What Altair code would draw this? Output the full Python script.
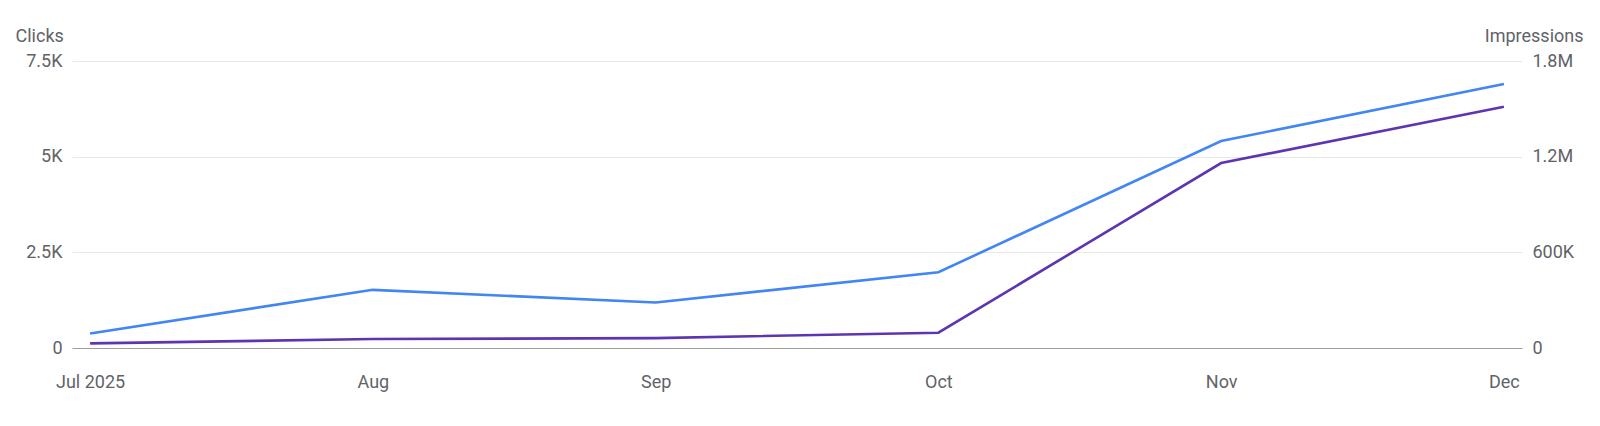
import altair as alt
import pandas as pd

months = ["Jul 2025", "Aug", "Sep", "Oct", "Nov", "Dec"]
clicks = [380, 1520, 1190, 1980, 5410, 6900]
impressions = [29000, 56000, 62000, 96000, 1160000, 1513000]

df = pd.DataFrame({"month": months, "clicks": clicks, "impressions": impressions})

FONT = "Roboto"
GREY = "#5f6368"

x = alt.X(
    "month:O",
    sort=months,
    scale=alt.Scale(type="point", padding=0.064),
    axis=alt.Axis(
        title=None,
        labelAngle=0,
        labelFontSize=18,
        labelFont=FONT,
        labelColor=GREY,
        labelPadding=25,
        labelBaseline="top",
        ticks=False,
        domain=True,
        domainColor="#9e9e9e",
        domainWidth=1.2,
        grid=False,
    ),
)

base = alt.Chart(df)

clicks_line = base.mark_line(color="#4285F4", strokeWidth=2.6).encode(
    x=x,
    y=alt.Y(
        "clicks:Q",
        scale=alt.Scale(domain=[0, 7500], nice=False),
        axis=alt.Axis(
            orient="left",
            values=[0, 2500, 5000, 7500],
            labelExpr="datum.value == 0 ? '0' : (datum.value / 1000) + 'K'",
            title="Clicks",
            titleAngle=0,
            titleAlign="left",
            titleBaseline="alphabetic",
            titleX=-57,
            titleY=-20,
            titleFont=FONT,
            titleFontSize=18,
            titleFontWeight="normal",
            titleColor=GREY,
            labelFont=FONT,
            labelFontSize=18,
            labelColor=GREY,
            labelPadding=10,
            ticks=False,
            domain=False,
            grid=True,
            gridColor="#e8e8e8",
            gridWidth=1,
        ),
    ),
)

impr_line = base.mark_line(color="#5E35B1", strokeWidth=2.6).encode(
    x=x,
    y=alt.Y(
        "impressions:Q",
        scale=alt.Scale(domain=[0, 1800000], nice=False),
        axis=alt.Axis(
            orient="right",
            values=[0, 600000, 1200000, 1800000],
            labelExpr="datum.value == 0 ? '0' : (datum.value >= 1000000 ? (datum.value / 1000000) + 'M' : (datum.value / 1000) + 'K')",
            title="Impressions",
            titleAngle=0,
            titleAlign="right",
            titleBaseline="alphabetic",
            titleX=61,
            titleY=-20,
            titleFont=FONT,
            titleFontSize=18,
            titleFontWeight="normal",
            titleColor=GREY,
            labelFont=FONT,
            labelFontSize=18,
            labelColor=GREY,
            labelPadding=10,
            ticks=False,
            domain=False,
            grid=False,
        ),
    ),
)

chart = (
    alt.layer(impr_line, clicks_line)
    .resolve_scale(y="independent")
    .properties(
        width=1450,
        height=287,
        background="white",
        padding={"left": 64, "top": 53, "right": 70, "bottom": 60},
        autosize=alt.AutoSizeParams(type="none"),
    )
    .configure_view(stroke="transparent", strokeWidth=0)
)

chart.save("out.html", embed_options={"renderer": "svg", "actions": False})
